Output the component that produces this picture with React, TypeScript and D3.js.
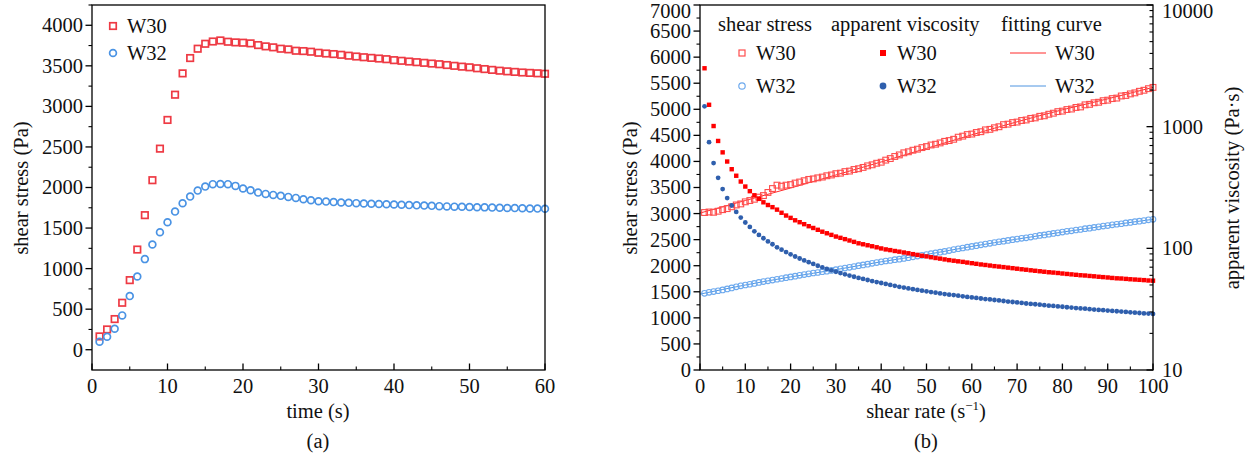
import React from "react";
import * as d3 from "d3";

// ---------- Panel (a): shear stress vs time ----------
const timeA = [
  1, 2, 3, 4, 5, 6, 7, 8, 9, 10, 11, 12, 13, 14, 15, 16, 17, 18, 19, 20,
  21, 22, 23, 24, 25, 26, 27, 28, 29, 30, 31, 32, 33, 34, 35, 36, 37, 38, 39, 40,
  41, 42, 43, 44, 45, 46, 47, 48, 49, 50, 51, 52, 53, 54, 55, 56, 57, 58, 59, 60,
];
const stressTimeW30 = [
  164, 250, 378, 579, 858, 1235, 1659, 2090, 2479, 2833,
  3144, 3407, 3596, 3711, 3772, 3800, 3813, 3797, 3789, 3785,
  3777, 3756, 3740, 3728, 3711, 3703, 3686, 3682, 3674, 3661,
  3652, 3645, 3636, 3625, 3615, 3606, 3598, 3590, 3582, 3570,
  3562, 3553, 3545, 3537, 3528, 3520, 3510, 3500, 3490, 3482,
  3470, 3460, 3450, 3440, 3432, 3425, 3418, 3413, 3408, 3402,
];
const stressTimeW32 = [
  99, 160, 259, 423, 661, 903, 1117, 1297, 1449, 1572,
  1703, 1806, 1888, 1962, 2011, 2041, 2044, 2041, 2020, 1987,
  1966, 1937, 1921, 1909, 1897, 1884, 1872, 1856, 1843, 1831,
  1826, 1820, 1815, 1811, 1807, 1803, 1800, 1797, 1793, 1790,
  1787, 1783, 1780, 1777, 1774, 1770, 1767, 1764, 1762, 1760,
  1757, 1755, 1752, 1750, 1748, 1746, 1744, 1742, 1740, 1738,
];
const timeTicks = [0, 10, 20, 30, 40, 50, 60];
const stressTicksA = [0, 500, 1000, 1500, 2000, 2500, 3000, 3500, 4000];

// ---------- Panel (b): shear stress & viscosity vs shear rate ----------
const rateB = [
  1, 2, 3, 4, 5, 6, 7, 8, 9, 10, 11, 12, 13, 14, 15, 16, 17, 18, 19, 20,
  21, 22, 23, 24, 25, 26, 27, 28, 29, 30, 31, 32, 33, 34, 35, 36, 37, 38, 39, 40,
  41, 42, 43, 44, 45, 46, 47, 48, 49, 50, 51, 52, 53, 54, 55, 56, 57, 58, 59, 60,
  61, 62, 63, 64, 65, 66, 67, 68, 69, 70, 71, 72, 73, 74, 75, 76, 77, 78, 79, 80,
  81, 82, 83, 84, 85, 86, 87, 88, 89, 90, 91, 92, 93, 94, 95, 96, 97, 98, 99, 100,
];
const stressRateW30 = [
  3020, 3030, 3025, 3045, 3075, 3095, 3130, 3165, 3185, 3225,
  3250, 3275, 3315, 3345, 3405, 3480, 3545, 3525, 3545, 3555,
  3585, 3605, 3630, 3655, 3665, 3685, 3700, 3725, 3740, 3765,
  3775, 3805, 3815, 3845, 3860, 3885, 3915, 3935, 3965, 3985,
  4025, 4055, 4095, 4125, 4165, 4185, 4215, 4235, 4265, 4285,
  4315, 4330, 4355, 4385, 4400, 4425, 4465, 4485, 4515, 4525,
  4555, 4570, 4605, 4615, 4645, 4665, 4705, 4715, 4745, 4755,
  4785, 4795, 4825, 4835, 4865, 4875, 4905, 4925, 4955, 4965,
  4995, 5005, 5035, 5045, 5085, 5095, 5125, 5135, 5165, 5175,
  5205, 5215, 5255, 5265, 5295, 5315, 5345, 5365, 5395, 5420,
];
const stressRateW32 = [
  1470, 1490, 1505, 1520, 1535, 1555, 1575, 1595, 1615, 1630,
  1645, 1660, 1680, 1695, 1710, 1725, 1740, 1755, 1770, 1785,
  1800, 1815, 1830, 1845, 1860, 1870, 1885, 1895, 1910, 1925,
  1940, 1955, 1970, 1985, 2000, 2015, 2030, 2045, 2060, 2075,
  2090, 2100, 2115, 2125, 2140, 2155, 2170, 2185, 2200, 2215,
  2230, 2245, 2260, 2275, 2290, 2310, 2325, 2340, 2355, 2370,
  2385, 2400, 2415, 2430, 2445, 2460, 2470, 2485, 2500, 2510,
  2525, 2535, 2550, 2565, 2580, 2590, 2605, 2620, 2630, 2645,
  2660, 2670, 2685, 2695, 2710, 2720, 2735, 2745, 2760, 2770,
  2785, 2795, 2805, 2820, 2830, 2845, 2855, 2865, 2880, 2890,
];
const viscW30 = [
  3020, 1513, 1012, 763, 615, 517, 447, 395, 354, 322,
  295, 273, 255, 239, 227, 218, 208, 196, 186, 178,
  170, 164, 158, 152, 147, 142, 137, 133, 129, 125,
  122, 119, 116, 113, 110, 108, 106, 104, 102, 99.8,
  98.0, 96.7, 95.1, 93.9, 92.4, 91.1, 89.6, 88.3, 86.9, 85.8,
  84.5, 83.3, 82.3, 81.1, 80.0, 79.1, 78.2, 77.4, 76.4, 75.5,
  74.6, 73.7, 73.0, 72.2, 71.4, 70.8, 70.1, 69.4, 68.7, 68.0,
  67.3, 66.7, 66.0, 65.4, 64.8, 64.2, 63.6, 63.2, 62.7, 62.1,
  61.6, 61.1, 60.6, 60.1, 59.8, 59.3, 58.9, 58.4, 58.0, 57.6,
  57.1, 56.7, 56.5, 56.1, 55.7, 55.4, 55.1, 54.8, 54.4, 54.2,
];
const viscW32 = [
  1470, 745, 502, 380, 307, 259, 225, 199, 179, 163,
  150, 138, 129, 121, 114, 108, 102, 97.5, 93.2, 89.3,
  85.7, 82.5, 79.6, 76.9, 74.4, 71.9, 69.8, 67.7, 65.9, 64.2,
  62.6, 61.1, 59.7, 58.4, 57.1, 56.0, 54.9, 53.8, 52.8, 51.9,
  51.0, 50.0, 49.2, 48.3, 47.6, 46.8, 46.2, 45.5, 44.9, 44.3,
  43.7, 43.2, 42.6, 42.1, 41.6, 41.3, 40.8, 40.3, 39.9, 39.5,
  39.1, 38.7, 38.3, 38.0, 37.6, 37.3, 36.9, 36.5, 36.2, 35.9,
  35.6, 35.2, 34.9, 34.7, 34.4, 34.1, 33.8, 33.6, 33.3, 33.1,
  32.8, 32.6, 32.3, 32.1, 31.9, 31.6, 31.4, 31.2, 31.0, 30.8,
  30.6, 30.4, 30.2, 30.0, 29.8, 29.6, 29.4, 29.2, 29.1, 28.9,
];
const fitRates = [0, 10, 20, 30, 40, 50, 60, 70, 80, 90, 100];
const fitW30 = [3010, 3250, 3490, 3740, 3990, 4250, 4510, 4760, 4990, 5200, 5420];
const fitW32 = [1455, 1630, 1785, 1925, 2075, 2215, 2370, 2510, 2645, 2770, 2890];
const rateTicks = [0, 10, 20, 30, 40, 50, 60, 70, 80, 90, 100];
const stressTicksB = [0, 500, 1000, 1500, 2000, 2500, 3000, 3500, 4000, 4500, 5000, 5500, 6000, 6500, 7000];
const viscTicks = [10, 100, 1000, 10000];
const viscTickLabels = ["10", "100", "1000", "10000"];

const FONT = '"Liberation Serif", "Times New Roman", Times, "DejaVu Serif", serif';
const FS = 20.5;
const TXT: any = { fontFamily: FONT, fontSize: FS, fill: "#111" };

const C = {
  aW30: "#ee3a44",
  aW32: "#4a93e4",
  sW30: "#ff4d4d",
  sW32: "#6eaaee",
  vW30: "#ff0000",
  vW32: "#2f5fad",
  fW30: "#ff2a2a",
  fW32: "#4e94e0",
};

function Sq({ x, y, s, stroke, fill, sw }: any) {
  return <rect x={x - s / 2} y={y - s / 2} width={s} height={s} fill={fill} stroke={stroke} strokeWidth={sw} />;
}

export default function App() {
  const xa = d3.scaleLinear().domain([0, 60]).range([92, 545]);
  const ya = d3.scaleLinear().domain([-250, 4250]).range([370, 5]);
  const xb = d3.scaleLinear().domain([0, 100]).range([700, 1153]);
  const yb = d3.scaleLinear().domain([0, 7000]).range([370, 5]);
  const yv = d3.scaleLog().domain([10, 10000]).range([370, 5]);

  const fitLine = d3
    .line<number>()
    .x((_, i) => xb(fitRates[i]))
    .y((d) => yb(d))
    .curve(d3.curveMonotoneX);

  const majorLen = 6.5;
  const minorLen = 3.5;
  const labelY = (yy: number) => Math.max(yy, 11);

  const leftAxis = (x0: number, y: any, ticks: number[], minorStep: number, lo: number, hi: number) => {
    const minors = d3.range(lo, hi + 0.001, minorStep).filter((v) => !ticks.includes(v));
    return (
      <g>
        {ticks.map((t) => (
          <g key={"M" + t}>
            <line x1={x0 - majorLen} x2={x0} y1={y(t)} y2={y(t)} stroke="#000" strokeWidth={1.3} />
            <text x={x0 - 9} y={labelY(y(t))} dy="0.34em" textAnchor="end" style={TXT}>
              {t}
            </text>
          </g>
        ))}
        {minors.map((t) => (
          <line key={"m" + t} x1={x0 - minorLen} x2={x0} y1={y(t)} y2={y(t)} stroke="#000" strokeWidth={1.1} />
        ))}
      </g>
    );
  };

  const bottomAxis = (y0: number, x: any, ticks: number[], minorStep: number, lo: number, hi: number) => {
    const minors = d3.range(lo, hi + 0.001, minorStep).filter((v) => !ticks.includes(v));
    return (
      <g>
        {ticks.map((t) => (
          <g key={"M" + t}>
            <line x1={x(t)} x2={x(t)} y1={y0 - majorLen} y2={y0} stroke="#000" strokeWidth={1.3} />
            <text x={x(t)} y={393} textAnchor="middle" style={TXT}>
              {t}
            </text>
          </g>
        ))}
        {minors.map((t) => (
          <line key={"m" + t} x1={x(t)} x2={x(t)} y1={y0 - minorLen} y2={y0} stroke="#000" strokeWidth={1.1} />
        ))}
      </g>
    );
  };

  const logMinors: number[] = [];
  [10, 100, 1000].forEach((d) => {
    [2, 3, 4, 5, 6, 7, 8, 9].forEach((k) => logMinors.push(k * d));
  });

  return (
    <svg
      width={1253}
      height={460}
      viewBox="0 0 1253 460"
      style={{ position: "absolute", left: 0, top: 0, background: "#fff" }}
    >
      <rect x={0} y={0} width={1253} height={460} fill="#fff" />

      {/* ================= Panel (a) ================= */}
      <g>
        {stressTimeW30.map((v, i) => (
          <Sq key={"a30" + i} x={xa(timeA[i])} y={ya(v)} s={6.5} stroke={C.aW30} fill="none" sw={1.7} />
        ))}
        {stressTimeW32.map((v, i) => (
          <circle key={"a32" + i} cx={xa(timeA[i])} cy={ya(v)} r={3.4} stroke={C.aW32} fill="none" strokeWidth={1.7} />
        ))}
        <rect x={92} y={5} width={453} height={365} fill="none" stroke="#000" strokeWidth={1.3} />
        {leftAxis(92, ya, stressTicksA, 250, 0, 4250)}
        {bottomAxis(370, xa, timeTicks, 5, 0, 60)}
        <Sq x={113} y={26} s={6.5} stroke={C.aW30} fill="none" sw={1.7} />
        <text x={127} y={33} style={TXT}>W30</text>
        <circle cx={113} cy={53} r={3.4} stroke={C.aW32} fill="none" strokeWidth={1.7} />
        <text x={127} y={60} style={TXT}>W32</text>
        <text transform={`translate(28,188) rotate(-90)`} textAnchor="middle" style={TXT}>
          shear stress (Pa)
        </text>
        <text x={318} y={418} textAnchor="middle" style={TXT}>
          time (s)
        </text>
        <text x={318} y={448} textAnchor="middle" style={TXT}>
          (a)
        </text>
      </g>

      {/* ================= Panel (b) ================= */}
      <g>
        <path d={fitLine(fitW30) || ""} fill="none" stroke={C.fW30} strokeWidth={1} />
        <path d={fitLine(fitW32) || ""} fill="none" stroke={C.fW32} strokeWidth={1} />
        {stressRateW30.map((v, i) => (
          <Sq key={"b30" + i} x={xb(rateB[i])} y={yb(v)} s={5.8} stroke={C.sW30} fill="none" sw={1.1} />
        ))}
        {stressRateW32.map((v, i) => (
          <circle key={"b32" + i} cx={xb(rateB[i])} cy={yb(v)} r={2.8} stroke={C.sW32} fill="none" strokeWidth={1.1} />
        ))}
        {viscW30.map((v, i) => (
          <Sq key={"v30" + i} x={xb(rateB[i])} y={yv(v)} s={4.4} stroke="none" fill={C.vW30} sw={0} />
        ))}
        {viscW32.map((v, i) => (
          <circle key={"v32" + i} cx={xb(rateB[i])} cy={yv(v)} r={2.4} fill={C.vW32} />
        ))}
        <rect x={700} y={5} width={453} height={365} fill="none" stroke="#000" strokeWidth={1.3} />
        {leftAxis(700, yb, stressTicksB, 250, 0, 7000)}
        {bottomAxis(370, xb, rateTicks, 5, 0, 100)}
        {viscTicks.map((t, i) => (
          <g key={"v" + t}>
            <line x1={1153 - majorLen} x2={1153} y1={yv(t)} y2={yv(t)} stroke="#000" strokeWidth={1.3} />
            <text x={1162} y={labelY(yv(t))} dy="0.34em" style={TXT}>
              {viscTickLabels[i]}
            </text>
          </g>
        ))}
        {logMinors.map((t) => (
          <line key={"lm" + t} x1={1153 - minorLen} x2={1153} y1={yv(t)} y2={yv(t)} stroke="#000" strokeWidth={1.1} />
        ))}
        <text x={718} y={31} style={TXT}>shear stress</text>
        <text x={831} y={31} style={TXT}>apparent viscosity</text>
        <text x={1001} y={31} style={TXT}>fitting curve</text>

        <Sq x={742} y={53} s={6} stroke={C.sW30} fill="none" sw={1.2} />
        <text x={756} y={60} style={TXT}>W30</text>
        <circle cx={742} cy={86} r={3.2} stroke={C.sW32} fill="none" strokeWidth={1.2} />
        <text x={756} y={93} style={TXT}>W32</text>

        <Sq x={883} y={53} s={6} stroke="none" fill={C.vW30} sw={0} />
        <text x={897} y={60} style={TXT}>W30</text>
        <circle cx={883} cy={86} r={3.4} fill={C.vW32} />
        <text x={897} y={93} style={TXT}>W32</text>

        <line x1={1010} x2={1046} y1={53} y2={53} stroke={C.fW30} strokeWidth={1} />
        <text x={1055} y={60} style={TXT}>W30</text>
        <line x1={1010} x2={1046} y1={86} y2={86} stroke={C.fW32} strokeWidth={1} />
        <text x={1055} y={93} style={TXT}>W32</text>

        <text transform={`translate(637,188) rotate(-90)`} textAnchor="middle" style={TXT}>
          shear stress (Pa)
        </text>
        <text transform={`translate(1239,188) rotate(-90)`} textAnchor="middle" style={TXT}>
          apparent viscosity (Pa·s)
        </text>
        <text x={926} y={418} textAnchor="middle" style={TXT}>
          shear rate (s
          <tspan dy={-8} style={{ fontSize: 13 }}>−1</tspan>
          <tspan dy={8}>)</tspan>
        </text>
        <text x={926} y={448} textAnchor="middle" style={TXT}>
          (b)
        </text>
      </g>
    </svg>
  );
}
